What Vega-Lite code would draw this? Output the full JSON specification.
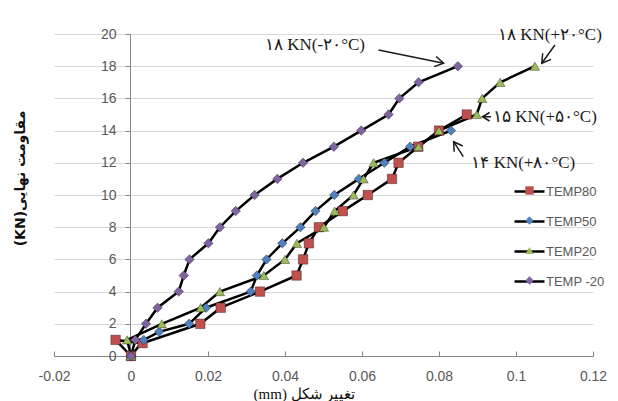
{
  "$schema": "https://vega.github.io/schema/vega-lite/v6.json",
  "width": 539,
  "height": 322,
  "autosize": {"type": "none"},
  "padding": {"left": 54, "top": 34, "right": 25, "bottom": 45},
  "background": "white",
  "config": {"view": {"stroke": null}, "font": "Liberation Sans"},
  "datasets": {
    "curves": [
      {"series": "TEMP80", "deformation": 0, "load": 0},
      {"series": "TEMP80", "deformation": -0.004, "load": 1},
      {"series": "TEMP80", "deformation": 0.003, "load": 0.8},
      {"series": "TEMP80", "deformation": 0.018, "load": 2},
      {"series": "TEMP80", "deformation": 0.0233, "load": 3},
      {"series": "TEMP80", "deformation": 0.0335, "load": 4},
      {"series": "TEMP80", "deformation": 0.043, "load": 5},
      {"series": "TEMP80", "deformation": 0.0447, "load": 6},
      {"series": "TEMP80", "deformation": 0.0462, "load": 7},
      {"series": "TEMP80", "deformation": 0.0488, "load": 8},
      {"series": "TEMP80", "deformation": 0.055, "load": 9},
      {"series": "TEMP80", "deformation": 0.0615, "load": 10},
      {"series": "TEMP80", "deformation": 0.0678, "load": 11},
      {"series": "TEMP80", "deformation": 0.0695, "load": 12},
      {"series": "TEMP80", "deformation": 0.0746, "load": 13},
      {"series": "TEMP80", "deformation": 0.08, "load": 14},
      {"series": "TEMP80", "deformation": 0.0872, "load": 15},
      {"series": "TEMP50", "deformation": 0, "load": 0},
      {"series": "TEMP50", "deformation": 0.0033, "load": 1},
      {"series": "TEMP50", "deformation": 0.0073, "load": 1.5},
      {"series": "TEMP50", "deformation": 0.0151, "load": 2},
      {"series": "TEMP50", "deformation": 0.0195, "load": 3},
      {"series": "TEMP50", "deformation": 0.0311, "load": 4},
      {"series": "TEMP50", "deformation": 0.0327, "load": 5},
      {"series": "TEMP50", "deformation": 0.0352, "load": 6},
      {"series": "TEMP50", "deformation": 0.0393, "load": 7},
      {"series": "TEMP50", "deformation": 0.044, "load": 8},
      {"series": "TEMP50", "deformation": 0.0479, "load": 9},
      {"series": "TEMP50", "deformation": 0.0528, "load": 10},
      {"series": "TEMP50", "deformation": 0.0592, "load": 11},
      {"series": "TEMP50", "deformation": 0.0658, "load": 12},
      {"series": "TEMP50", "deformation": 0.0725, "load": 13},
      {"series": "TEMP50", "deformation": 0.0831, "load": 14},
      {"series": "TEMP20", "deformation": 0, "load": 0},
      {"series": "TEMP20", "deformation": -0.001, "load": 1},
      {"series": "TEMP20", "deformation": 0.008, "load": 2},
      {"series": "TEMP20", "deformation": 0.0181, "load": 3},
      {"series": "TEMP20", "deformation": 0.0231, "load": 4},
      {"series": "TEMP20", "deformation": 0.0345, "load": 5},
      {"series": "TEMP20", "deformation": 0.04, "load": 6},
      {"series": "TEMP20", "deformation": 0.0431, "load": 7},
      {"series": "TEMP20", "deformation": 0.0501, "load": 8},
      {"series": "TEMP20", "deformation": 0.0529, "load": 9},
      {"series": "TEMP20", "deformation": 0.0578, "load": 10},
      {"series": "TEMP20", "deformation": 0.0604, "load": 11},
      {"series": "TEMP20", "deformation": 0.063, "load": 12},
      {"series": "TEMP20", "deformation": 0.0747, "load": 13},
      {"series": "TEMP20", "deformation": 0.08, "load": 14},
      {"series": "TEMP20", "deformation": 0.0898, "load": 15},
      {"series": "TEMP20", "deformation": 0.0912, "load": 16},
      {"series": "TEMP20", "deformation": 0.0959, "load": 17},
      {"series": "TEMP20", "deformation": 0.1049, "load": 18},
      {"series": "TEMP -20", "deformation": 0, "load": 0},
      {"series": "TEMP -20", "deformation": 0.0011, "load": 1},
      {"series": "TEMP -20", "deformation": 0.0039, "load": 2},
      {"series": "TEMP -20", "deformation": 0.0069, "load": 3},
      {"series": "TEMP -20", "deformation": 0.0124, "load": 4},
      {"series": "TEMP -20", "deformation": 0.0137, "load": 5},
      {"series": "TEMP -20", "deformation": 0.0152, "load": 6},
      {"series": "TEMP -20", "deformation": 0.0201, "load": 7},
      {"series": "TEMP -20", "deformation": 0.0231, "load": 8},
      {"series": "TEMP -20", "deformation": 0.0272, "load": 9},
      {"series": "TEMP -20", "deformation": 0.0321, "load": 10},
      {"series": "TEMP -20", "deformation": 0.038, "load": 11},
      {"series": "TEMP -20", "deformation": 0.0447, "load": 12},
      {"series": "TEMP -20", "deformation": 0.0527, "load": 13},
      {"series": "TEMP -20", "deformation": 0.0598, "load": 14},
      {"series": "TEMP -20", "deformation": 0.0669, "load": 15},
      {"series": "TEMP -20", "deformation": 0.0697, "load": 16},
      {"series": "TEMP -20", "deformation": 0.0747, "load": 17},
      {"series": "TEMP -20", "deformation": 0.0849, "load": 18}
    ],
    "notes": [
      {"label": "۱۸ KN(-۲۰°C)", "deformation": 0.0478, "load": 19.32},
      {"label": "۱۸ KN(+۲۰°C)", "deformation": 0.1088, "load": 19.94},
      {"label": "۱۵ KN(+۵۰°C)", "deformation": 0.1075, "load": 14.83},
      {"label": "۱۴ KN(+۸۰°C)", "deformation": 0.1019, "load": 11.97}
    ],
    "arrows": [
      {"id": "a", "deformation": 0.0812, "load": 18.18, "deformation2": 0.0643, "load2": 19.0},
      {"id": "b", "deformation": 0.1067, "load": 18.18, "deformation2": 0.1101, "load2": 19.32},
      {"id": "c", "deformation": 0.0913, "load": 14.86, "deformation2": 0.0935, "load2": 14.86},
      {"id": "d", "deformation": 0.0838, "load": 13.31, "deformation2": 0.0863, "load2": 12.38}
    ]
  },
  "encoding": {
    "x": {
      "field": "deformation", "type": "quantitative",
      "scale": {"domain": [-0.02, 0.12], "nice": false, "zero": false},
      "axis": {
        "values": [-0.02, 0, 0.02, 0.04, 0.06, 0.08, 0.1, 0.12],
        "labelExpr": "replace(format(datum.value, '~g'), '\u2212', '-')",
        "grid": false,
        "domainColor": "#868686", "tickColor": "#868686", "tickSize": -5,
        "labelColor": "#595959", "labelFontSize": 14, "labelFont": "Liberation Sans",
        "labelPadding": 18, "labelFlush": false, "labelOverlap": false,
        "title": "(mm) تغییر شکل",
        "titleFont": "Liberation Serif", "titleFontSize": 15, "titleFontWeight": "normal", "titleColor": "#111111",
        "titleX": 250, "titleY": 42, "titleBaseline": "alphabetic"
      }
    },
    "y": {
      "field": "load", "type": "quantitative",
      "scale": {"domain": [0, 20], "nice": false},
      "axis": {
        "values": [0, 2, 4, 6, 8, 10, 12, 14, 16, 18, 20],
        "labelOverlap": false,
        "offset": -76,
        "grid": true, "gridColor": "#d9d9d9", "gridWidth": 1,
        "domainColor": "#868686", "tickColor": "#868686", "tickSize": 5,
        "labelColor": "#595959", "labelFontSize": 14, "labelFont": "Liberation Sans", "labelPadding": 9,
        "title": "(KN)مقاومت نهایی",
        "titleFont": "DejaVu Sans", "titleFontSize": 14, "titleFontWeight": "bold", "titleColor": "#111111",
        "titleX": -103, "titleY": 144, "titleAngle": -90
      }
    }
  },
  "resolve": {"legend": {"stroke": "independent", "fill": "independent", "shape": "independent"}},
  "layer": [
    {
      "data": {"name": "curves"},
      "mark": {"type": "line", "strokeWidth": 2.5},
      "encoding": {
        "stroke": {
          "field": "series", "type": "nominal",
          "scale": {"domain": ["TEMP80", "TEMP50", "TEMP20", "TEMP -20"], "range": ["#000000", "#000000", "#000000", "#000000"]},
          "legend": {
            "title": null, "orient": "none", "legendX": 459, "legendY": 141,
            "symbolType": "stroke", "symbolSize": 900, "symbolStrokeWidth": 2.5,
            "labelFont": "Liberation Sans", "labelFontSize": 13, "labelColor": "#595959", "labelOffset": 0,
            "rowPadding": 6
          }
        },
        "order": {"value": null}
      }
    },
    {
      "data": {"name": "curves"},
      "mark": {"type": "point", "filled": true, "size": 90, "opacity": 1, "stroke": "#000000", "strokeOpacity": 0.35, "strokeWidth": 1},
      "encoding": {
        "fill": {
          "field": "series", "type": "nominal",
          "scale": {"domain": ["TEMP80", "TEMP50", "TEMP20", "TEMP -20"], "range": ["#c0504d", "#4f81bd", "#9bbb59", "#8064a2"]},
          "legend": {
            "title": null, "orient": "none", "legendX": 469, "legendY": 150,
            "symbolSize": 70, "labelExpr": "''", "labelFontSize": 13, "rowPadding": 16,
            "symbolStrokeColor": "#555555", "symbolStrokeWidth": 0.5
          }
        },
        "shape": {
          "field": "series", "type": "nominal",
          "scale": {"domain": ["TEMP80", "TEMP50", "TEMP20", "TEMP -20"], "range": ["square", "diamond", "triangle-up", "diamond"]},
          "legend": {
            "title": null, "orient": "none", "legendX": 469, "legendY": 150,
            "symbolSize": 70, "labelExpr": "''", "labelFontSize": 13, "rowPadding": 16,
            "symbolStrokeColor": "#555555", "symbolStrokeWidth": 0.5
          }
        }
      }
    },
    {
      "data": {"name": "arrows"},
      "mark": {"type": "rule", "stroke": "#1a1a1a", "strokeWidth": 1.5},
      "encoding": {
        "x2": {"field": "deformation2"},
        "y2": {"field": "load2"}
      }
    },
    {
      "data": {"name": "arrows"},
      "transform": [{"filter": "datum.id == 'a'"}],
      "mark": {"type": "point", "shape": "M -1 -0.6 L 0 0 L -1 0.6", "filled": false, "size": 300, "angle": 11.6, "stroke": "#1a1a1a", "strokeWidth": 1.5, "opacity": 1},
      "encoding": {}
    },
    {
      "data": {"name": "arrows"},
      "transform": [{"filter": "datum.id == 'b'"}],
      "mark": {"type": "point", "shape": "M -1 -0.6 L 0 0 L -1 0.6", "filled": false, "size": 300, "angle": 126, "stroke": "#1a1a1a", "strokeWidth": 1.5, "opacity": 1},
      "encoding": {}
    },
    {
      "data": {"name": "arrows"},
      "transform": [{"filter": "datum.id == 'c'"}],
      "mark": {"type": "point", "shape": "M -1 -0.6 L 0 0 L -1 0.6", "filled": false, "size": 200, "angle": 180, "stroke": "#1a1a1a", "strokeWidth": 1.5, "opacity": 1},
      "encoding": {}
    },
    {
      "data": {"name": "arrows"},
      "transform": [{"filter": "datum.id == 'd'"}],
      "mark": {"type": "point", "shape": "M -1 -0.6 L 0 0 L -1 0.6", "filled": false, "size": 300, "angle": 236, "stroke": "#1a1a1a", "strokeWidth": 1.5, "opacity": 1},
      "encoding": {}
    },
    {
      "data": {"name": "notes"},
      "mark": {"type": "text", "font": "Liberation Serif", "fontSize": 17, "color": "#1a1a1a", "align": "center", "baseline": "middle"},
      "encoding": {
        "text": {"field": "label"}
      }
    }
  ]
}
